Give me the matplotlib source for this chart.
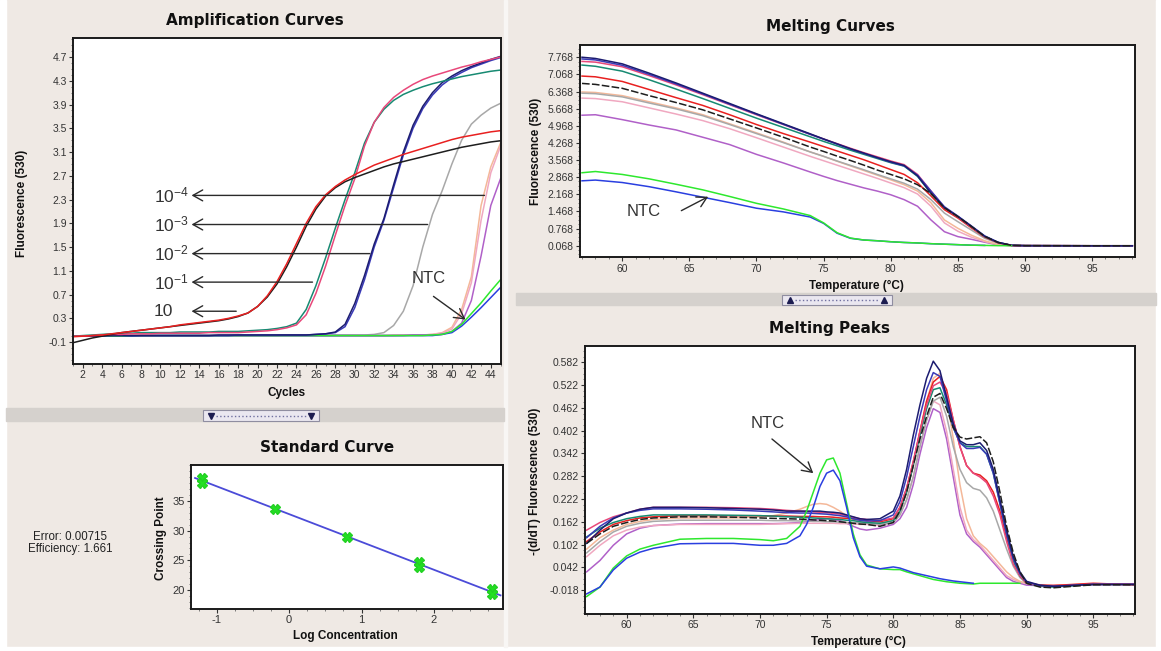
import matplotlib
matplotlib.use("Agg")
import matplotlib.pyplot as plt
import numpy as np
from matplotlib.patches import Rectangle
from matplotlib.lines import Line2D
from matplotlib.ticker import MultipleLocator, FormatStrFormatter, AutoMinorLocator

plt.rcParams["font.family"] = ["Liberation Sans", "DejaVu Sans"]
plt.rcParams["mathtext.default"] = "regular"
plt.rcParams["axes.unicode_minus"] = False

W, H = 1161, 651
BG = "#EFE9E4"
nan = float("nan")

# ---------------- Amplification curves (fluorescence per cycle) ----------------
CYCLES = list(range(1, 46))

AMP_RED = [-0.01, 0.0, 0.01, 0.02, 0.04, 0.06, 0.08, 0.1, 0.12, 0.14,
           0.16, 0.19, 0.21, 0.23, 0.25, 0.27, 0.3, 0.34, 0.39, 0.5,
           0.68, 0.92, 1.22, 1.56, 1.9, 2.18, 2.38, 2.52, 2.63, 2.72,
           2.8, 2.88, 2.94, 3.0, 3.06, 3.11, 3.16, 3.21, 3.26, 3.31,
           3.35, 3.38, 3.41, 3.44, 3.46]
AMP_BLACK = [-0.11, -0.07, -0.03, 0.0, 0.03, 0.06, 0.08, 0.1, 0.12, 0.14,
             0.16, 0.18, 0.2, 0.22, 0.24, 0.26, 0.29, 0.33, 0.39, 0.5,
             0.66, 0.88, 1.17, 1.5, 1.85, 2.14, 2.36, 2.5, 2.6, 2.67,
             2.73, 2.79, 2.85, 2.9, 2.94, 2.98, 3.02, 3.06, 3.1, 3.14,
             3.18, 3.21, 3.24, 3.27, 3.29]
AMP_TEAL = [0.0, 0.01, 0.02, 0.03, 0.04, 0.05, 0.05, 0.06, 0.06, 0.06,
            0.06, 0.07, 0.07, 0.07, 0.07, 0.08, 0.08, 0.08, 0.09, 0.1,
            0.11, 0.13, 0.16, 0.22, 0.45, 0.85, 1.32, 1.82, 2.3, 2.75,
            3.25, 3.6, 3.82, 3.97, 4.07, 4.14, 4.2, 4.25, 4.29, 4.33,
            4.37, 4.4, 4.43, 4.46, 4.48]
AMP_PINK = [0.0, 0.0, 0.01, 0.02, 0.03, 0.03, 0.04, 0.04, 0.04, 0.05,
            0.05, 0.05, 0.05, 0.05, 0.06, 0.06, 0.06, 0.06, 0.07, 0.08,
            0.09, 0.11, 0.14, 0.19, 0.36, 0.72, 1.18, 1.7, 2.2, 2.65,
            3.2, 3.6, 3.85, 4.02, 4.14, 4.24, 4.32, 4.38, 4.43, 4.48,
            4.53, 4.57, 4.62, 4.66, 4.7]
AMP_NAVY = [0.0, 0.0, 0.0, 0.01, 0.01, 0.01, 0.01, 0.01, 0.01, 0.01,
            0.01, 0.01, 0.01, 0.01, 0.01, 0.02, 0.02, 0.02, 0.02, 0.02,
            0.02, 0.02, 0.02, 0.02, 0.02, 0.03, 0.04, 0.07, 0.2, 0.55,
            1.02, 1.55, 1.98, 2.55, 3.1, 3.55, 3.87, 4.1, 4.27, 4.38,
            4.47, 4.54, 4.6, 4.66, 4.71]
AMP_VIOLET = [0.0, 0.0, 0.0, 0.0, 0.01, 0.01, 0.01, 0.01, 0.01, 0.01,
              0.01, 0.01, 0.01, 0.01, 0.01, 0.01, 0.01, 0.02, 0.02, 0.02,
              0.02, 0.02, 0.02, 0.02, 0.02, 0.03, 0.04, 0.06, 0.16, 0.48,
              0.95, 1.5, 1.95, 2.5, 3.05, 3.5, 3.83, 4.06, 4.23, 4.35,
              4.44, 4.52, 4.58, 4.64, 4.69]
AMP_GRAY = [0.0, 0.0, 0.0, 0.0, 0.01, 0.01, 0.01, 0.01, 0.01, 0.01,
            0.01, 0.01, 0.01, 0.01, 0.01, 0.01, 0.01, 0.01, 0.01, 0.01,
            0.01, 0.01, 0.02, 0.02, 0.02, 0.02, 0.02, 0.02, 0.02, 0.02,
            0.02, 0.03, 0.06, 0.18, 0.42, 0.85, 1.5, 2.05, 2.45, 2.9,
            3.3, 3.57, 3.72, 3.84, 3.92]
AMP_PEACH = [0.0, 0.0, 0.0, 0.0, 0.0, 0.01, 0.01, 0.01, 0.01, 0.01,
             0.01, 0.01, 0.01, 0.01, 0.01, 0.01, 0.01, 0.01, 0.01, 0.01,
             0.01, 0.01, 0.01, 0.01, 0.01, 0.01, 0.01, 0.01, 0.01, 0.01,
             0.01, 0.01, 0.01, 0.02, 0.02, 0.02, 0.02, 0.03, 0.06, 0.15,
             0.45, 1.0, 2.2, 2.85, 3.25]
AMP_LPINK = [0.0, 0.0, 0.0, 0.0, 0.0, 0.0, 0.01, 0.01, 0.01, 0.01,
             0.01, 0.01, 0.01, 0.01, 0.01, 0.01, 0.01, 0.01, 0.01, 0.01,
             0.01, 0.01, 0.01, 0.01, 0.01, 0.01, 0.01, 0.01, 0.01, 0.01,
             0.01, 0.01, 0.01, 0.01, 0.02, 0.02, 0.02, 0.03, 0.05, 0.12,
             0.38, 0.9, 1.95, 2.75, 3.2]
AMP_PURPLE = [0.0, 0.0, 0.0, 0.0, 0.0, 0.0, 0.0, 0.01, 0.01, 0.01,
              0.01, 0.01, 0.01, 0.01, 0.01, 0.01, 0.01, 0.01, 0.01, 0.01,
              0.01, 0.01, 0.01, 0.01, 0.01, 0.01, 0.01, 0.01, 0.01, 0.01,
              0.01, 0.01, 0.01, 0.01, 0.01, 0.02, 0.02, 0.02, 0.03, 0.08,
              0.22, 0.6, 1.35, 2.2, 2.65]
AMP_GREEN = [0.0, 0.0, 0.0, 0.0, 0.0, 0.0, 0.01, 0.01, 0.01, 0.01,
             0.01, 0.01, 0.01, 0.01, 0.01, 0.01, 0.01, 0.01, 0.01, 0.01,
             0.01, 0.01, 0.01, 0.01, 0.01, 0.01, 0.01, 0.01, 0.01, 0.01,
             0.01, 0.01, 0.01, 0.01, 0.01, 0.01, 0.01, 0.02, 0.03, 0.08,
             0.2, 0.38, 0.56, 0.76, 0.95]
AMP_BLUE = [0.0, 0.0, 0.0, 0.0, 0.0, 0.0, 0.0, 0.01, 0.01, 0.01,
            0.01, 0.01, 0.01, 0.01, 0.01, 0.01, 0.01, 0.01, 0.01, 0.01,
            0.01, 0.01, 0.01, 0.01, 0.01, 0.01, 0.01, 0.01, 0.01, 0.01,
            0.01, 0.01, 0.01, 0.01, 0.01, 0.01, 0.01, 0.01, 0.03, 0.06,
            0.17, 0.32, 0.48, 0.65, 0.82]

DILUTION_LABELS = ["10$^{-4}$", "10$^{-3}$", "10$^{-2}$", "10$^{-1}$", "10"]

# ---------------- Melting curves (fluorescence vs temperature) ----------------
MELT_T = [57, 58, 60, 62, 64, 66, 68, 70, 72, 74, 75, 76, 77, 78, 79, 80,
          81, 82, 83, 84, 85, 86, 87, 88, 89, 90, 92, 95, 98]

MELT_NAVY = [7.77, 7.72, 7.5, 7.12, 6.72, 6.3, 5.88, 5.46, 5.05, 4.64, 4.43, 4.23, 4.03, 3.85, 3.67,
             3.5, 3.35, 2.92, 2.22, 1.62, 1.26, 0.86, 0.45, 0.2, 0.08, 0.07, 0.068, 0.065, 0.065]
MELT_VIOLET = [7.7, 7.66, 7.44, 7.07, 6.68, 6.27, 5.85, 5.44, 5.03, 4.62, 4.42, 4.22, 4.02, 3.84, 3.66,
               3.48, 3.33, 2.95, 2.3, 1.66, 1.28, 0.88, 0.47, 0.21, 0.08, 0.07, 0.068, 0.066, 0.066]
MELT_PINK = [7.6, 7.57, 7.38, 7.02, 6.64, 6.24, 5.83, 5.42, 5.02, 4.62, 4.43, 4.24, 4.05, 3.87, 3.7,
             3.53, 3.38, 2.98, 2.3, 1.62, 1.24, 0.84, 0.44, 0.19, 0.08, 0.07, 0.068, 0.066, 0.066]
MELT_TEAL = [7.45, 7.4, 7.2, 6.85, 6.47, 6.08, 5.68, 5.28, 4.9, 4.52, 4.33, 4.15, 3.97, 3.8, 3.63,
             3.46, 3.32, 2.9, 2.2, 1.62, 1.25, 0.85, 0.44, 0.2, 0.09, 0.07, 0.068, 0.066, 0.066]
MELT_RED = [7.0, 6.97, 6.78, 6.45, 6.12, 5.8, 5.42, 5.02, 4.65, 4.3, 4.12, 3.94, 3.76, 3.58, 3.38,
            3.18, 2.98, 2.64, 2.1, 1.54, 1.2, 0.8, 0.42, 0.19, 0.08, 0.07, 0.068, 0.066, 0.066]
MELT_BLACK = [6.7, 6.66, 6.5, 6.2, 5.92, 5.62, 5.25, 4.88, 4.5, 4.1, 3.92, 3.73, 3.55, 3.36, 3.16,
              2.98, 2.8, 2.56, 2.2, 1.62, 1.26, 0.86, 0.45, 0.2, 0.08, 0.07, 0.068, 0.066, 0.066]
MELT_GRAY = [6.3, 6.28, 6.15, 5.9, 5.66, 5.38, 5.02, 4.65, 4.28, 3.9, 3.72, 3.53, 3.35, 3.17, 2.98,
             2.8, 2.62, 2.38, 1.95, 1.4, 1.05, 0.71, 0.37, 0.17, 0.08, 0.07, 0.068, 0.066, 0.066]
MELT_PEACH = [6.35, 6.33, 6.2, 5.95, 5.7, 5.42, 5.05, 4.68, 4.3, 3.9, 3.72, 3.52, 3.33, 3.14, 2.95,
              2.76, 2.56, 2.3, 1.82, 1.12, 0.78, 0.5, 0.27, 0.12, 0.07, 0.068, 0.068, 0.066, 0.066]
MELT_LPINK = [6.1, 6.08, 5.95, 5.7, 5.45, 5.18, 4.85, 4.48, 4.1, 3.72, 3.54, 3.36, 3.18, 3.0, 2.82,
              2.63, 2.44, 2.18, 1.68, 1.0, 0.66, 0.42, 0.24, 0.11, 0.07, 0.068, 0.068, 0.066, 0.066]
MELT_PURPLE = [5.4, 5.42, 5.22, 5.0, 4.8, 4.5, 4.2, 3.8, 3.45, 3.08, 2.9, 2.73, 2.58, 2.43, 2.3,
               2.15, 1.95, 1.68, 1.12, 0.64, 0.44, 0.33, 0.21, 0.1, 0.07, 0.068, 0.068, 0.066, 0.066]
MELT_GREEN = [3.05, 3.1, 2.98, 2.8, 2.58, 2.35, 2.08, 1.8, 1.57, 1.3, 1.0, 0.6, 0.38, 0.3, 0.27,
              0.23, 0.2, 0.18, 0.15, 0.13, 0.11, 0.09, 0.08, 0.07, 0.068, nan, nan, nan, nan]
MELT_BLUE = [2.72, 2.75, 2.65, 2.48, 2.27, 2.05, 1.83, 1.6, 1.45, 1.24, 0.98, 0.58, 0.37, 0.3, 0.27,
             0.23, 0.2, 0.18, 0.15, 0.13, 0.11, 0.09, 0.08, nan, nan, nan, nan, nan, nan]

# ---------------- Melting peaks (-dF/dT vs temperature) ----------------
PEAK_T = [57, 58, 59, 60, 61, 62, 64, 66, 68, 70, 71, 72, 73, 73.5, 74, 74.5, 75, 75.5, 76, 76.5,
          77, 77.5, 78, 79, 80, 80.5, 81, 81.5, 82, 82.5, 83, 83.5, 84, 84.5, 85, 85.5, 86, 86.5,
          87, 87.5, 88, 88.5, 89, 89.5, 90, 91, 92, 95, 98]

PEAK_NAVY = [0.105, 0.14, 0.17, 0.185, 0.195, 0.2, 0.2, 0.199, 0.197, 0.195, 0.193, 0.19,
             0.19, 0.19, 0.19, 0.19, 0.188, 0.187, 0.185, 0.18, 0.175, 0.17, 0.168, 0.17, 0.19,
             0.23, 0.3, 0.39, 0.47, 0.54, 0.585, 0.56, 0.49, 0.42, 0.375, 0.365, 0.365, 0.37,
             0.35, 0.3, 0.22, 0.14, 0.07, 0.03, 0.005, -0.005, -0.008, -0.003, -0.003]
PEAK_VIOLET = [0.12, 0.15, 0.172, 0.185, 0.192, 0.196, 0.196, 0.195, 0.193, 0.19, 0.188, 0.186,
               0.185, 0.185, 0.184, 0.183, 0.182, 0.18, 0.178, 0.175, 0.17, 0.166, 0.164, 0.165, 0.18,
               0.215, 0.28, 0.36, 0.44, 0.51, 0.555, 0.545, 0.48, 0.41, 0.37, 0.355, 0.355, 0.358,
               0.34, 0.29, 0.21, 0.13, 0.065, 0.025, 0.003, -0.006, -0.008, -0.003, -0.003]
PEAK_TEAL = [0.122, 0.145, 0.16, 0.17, 0.176, 0.18, 0.18, 0.18, 0.179, 0.178, 0.177, 0.175,
             0.174, 0.173, 0.172, 0.171, 0.17, 0.169, 0.168, 0.166, 0.165, 0.162, 0.16, 0.158, 0.165,
             0.19, 0.24, 0.31, 0.39, 0.46, 0.51, 0.515, 0.47, 0.41, 0.37, 0.36, 0.36, 0.36,
             0.34, 0.29, 0.21, 0.13, 0.06, 0.02, 0.0, -0.008, -0.01, -0.003, -0.003]
PEAK_PINK = [0.14, 0.16, 0.175, 0.185, 0.195, 0.2, 0.2, 0.2, 0.199, 0.197, 0.195, 0.192,
             0.19, 0.189, 0.188, 0.187, 0.186, 0.184, 0.182, 0.178, 0.174, 0.17, 0.168, 0.165, 0.172,
             0.2, 0.25, 0.32, 0.4, 0.47, 0.52, 0.53, 0.5, 0.43, 0.36, 0.31, 0.29, 0.28,
             0.265, 0.23, 0.18, 0.11, 0.05, 0.02, 0.0, -0.006, -0.008, -0.002, -0.002]
PEAK_RED = [0.11, 0.135, 0.155, 0.165, 0.172, 0.175, 0.178, 0.178, 0.178, 0.178, 0.177, 0.177,
            0.176, 0.176, 0.176, 0.175, 0.175, 0.174, 0.172, 0.171, 0.17, 0.167, 0.165, 0.162, 0.17,
            0.2, 0.25, 0.32, 0.4, 0.48, 0.53, 0.545, 0.51, 0.43, 0.36, 0.31, 0.29, 0.285,
            0.27, 0.24, 0.19, 0.12, 0.06, 0.02, 0.0, -0.005, -0.006, 0.0, -0.004]
PEAK_BLACK = [0.105, 0.13, 0.15, 0.16, 0.168, 0.172, 0.175, 0.175, 0.174, 0.172, 0.171, 0.17,
              0.169, 0.168, 0.167, 0.166, 0.165, 0.164, 0.162, 0.16, 0.158, 0.156, 0.155, 0.15, 0.16,
              0.19, 0.24, 0.31, 0.38, 0.44, 0.49, 0.5, 0.46, 0.41, 0.385, 0.38, 0.383, 0.386,
              0.37, 0.32, 0.24, 0.15, 0.08, 0.03, 0.0, -0.01, -0.012, -0.004, -0.004]
PEAK_GRAY = [0.08, 0.11, 0.135, 0.15, 0.158, 0.163, 0.166, 0.166, 0.166, 0.166, 0.165, 0.165,
             0.164, 0.164, 0.163, 0.163, 0.162, 0.162, 0.161, 0.16, 0.16, 0.159, 0.158, 0.155, 0.16,
             0.18, 0.22, 0.28, 0.36, 0.43, 0.48, 0.49, 0.44, 0.36, 0.3, 0.265, 0.25, 0.245,
             0.225, 0.19, 0.14, 0.09, 0.045, 0.015, 0.0, -0.006, -0.008, -0.003, -0.003]
PEAK_PEACH = [0.09, 0.12, 0.14, 0.155, 0.163, 0.168, 0.172, 0.172, 0.172, 0.175, 0.178, 0.185,
              0.195, 0.202, 0.208, 0.21, 0.208, 0.2, 0.19, 0.178, 0.168, 0.162, 0.16, 0.158, 0.165,
              0.19, 0.24, 0.31, 0.4, 0.48, 0.54, 0.553, 0.49, 0.38, 0.26, 0.17, 0.125, 0.105,
              0.09, 0.07, 0.05, 0.03, 0.015, 0.005, 0.0, -0.005, -0.006, -0.003, -0.003]
PEAK_LPINK = [0.07, 0.1, 0.125, 0.14, 0.148, 0.152, 0.155, 0.155, 0.155, 0.155, 0.156, 0.157,
              0.158, 0.158, 0.158, 0.158, 0.158, 0.158, 0.157, 0.157, 0.156, 0.155, 0.155, 0.152, 0.16,
              0.18, 0.22, 0.28, 0.36, 0.43, 0.48, 0.47, 0.4, 0.3, 0.2, 0.14, 0.115, 0.1,
              0.08, 0.06, 0.04, 0.02, 0.01, 0.003, 0.0, -0.004, -0.005, -0.003, -0.003]
PEAK_PURPLE = [0.03, 0.06, 0.1, 0.13, 0.145, 0.152, 0.156, 0.157, 0.157, 0.157, 0.157, 0.158,
               0.16, 0.162, 0.165, 0.168, 0.17, 0.168, 0.165, 0.158, 0.15, 0.143, 0.14, 0.145, 0.155,
               0.17, 0.2, 0.26, 0.34, 0.41, 0.46, 0.45, 0.38, 0.28, 0.18, 0.13, 0.11, 0.095,
               0.075, 0.055, 0.035, 0.015, 0.005, 0.0, -0.005, -0.006, -0.006, -0.004, -0.004]
PEAK_GREEN = [-0.035, -0.01, 0.04, 0.072, 0.09, 0.1, 0.116, 0.118, 0.118, 0.115, 0.112, 0.118,
              0.15, 0.19, 0.24, 0.29, 0.325, 0.33, 0.29, 0.21, 0.13, 0.075, 0.048, 0.038, 0.036,
              0.036, 0.03, 0.025, 0.02, 0.015, 0.01, 0.007, 0.004, 0.002, 0.0, -0.001, -0.002, 0.0,
              0.0, 0.0, 0.0, 0.0, 0.0, 0.0, nan, nan, nan, nan, nan]
PEAK_BLUE = [-0.028, -0.01, 0.035, 0.066, 0.082, 0.092, 0.104, 0.105, 0.105, 0.1, 0.1, 0.105,
             0.125, 0.155, 0.2, 0.255, 0.29, 0.298, 0.27, 0.2, 0.12, 0.07, 0.045, 0.038, 0.043,
             0.04, 0.034, 0.028, 0.024, 0.02, 0.016, 0.012, 0.009, 0.006, 0.004, 0.002, 0.0, nan,
             nan, nan, nan, nan, nan, nan, nan, nan, nan, nan, nan]

# ---------------- Standard curve ----------------
LOG_CONC = [-1.2, -1.2, -0.2, 0.8, 1.8, 1.8, 2.8, 2.8]
CROSSING_POINT = [38.9, 37.9, 33.65, 28.95, 24.7, 23.95, 20.15, 19.35]
STD_ERROR = "0.00715"
STD_EFFICIENCY = "1.661"

COLORS = {
    "navy": "#1c1c70", "violet": "#3a3ab8", "teal": "#178a72", "pink": "#e8487a",
    "red": "#e82020", "black": "#1e1e1e", "gray": "#a8a8a8", "peach": "#f4b899",
    "lpink": "#f0a8c0", "purple": "#b060c8", "green": "#2ee82e", "blue": "#2a3fe0",
}

fig = plt.figure(figsize=(W / 100, H / 100), dpi=100, facecolor=BG)


def fx(px):
    return px / W


def fy(py):
    return 1 - py / H


def add_ax(left, top, right, bottom):
    return fig.add_axes([fx(left), fy(bottom), (right - left) / W, (bottom - top) / H])


def rect(x0, y0, x1, y1, **kw):
    fig.add_artist(Rectangle((fx(x0), fy(y1)), (x1 - x0) / W, (y1 - y0) / H,
                             transform=fig.transFigure, **kw))


def style(ax, size=7.5):
    ax.set_facecolor("white")
    for s in ax.spines.values():
        s.set_linewidth(1.4)
        s.set_color("#1a1a1a")
    ax.tick_params(which="major", direction="out", length=3, width=0.8,
                   labelsize=size, colors="#333333", pad=1.5)
    ax.tick_params(which="minor", direction="out", length=1.5, width=0.6, colors="#666666")


def title(cx, cy, s):
    fig.text(fx(cx), fy(cy), s, ha="center", va="center", fontsize=11,
             fontweight="heavy", family="DejaVu Sans", color="#111111")


def label(cx, cy, s, rot=0):
    fig.text(fx(cx), fy(cy), s, ha="center", va="center", fontsize=8.5,
             fontweight="bold", rotation=rot, color="#111111")


def arrow(ax, head, tail):
    ax.annotate("", xy=head, xytext=tail,
                arrowprops=dict(arrowstyle="->, head_length=0.5, head_width=0.28",
                                color="#2a2a2a", lw=1.0, mutation_scale=14,
                                shrinkA=0, shrinkB=0))


# ---------------- window decoration ----------------
rect(0, 0, 6, H, color="white", zorder=0)
rect(0, 647, W, H, color="white", zorder=0)
rect(1156, 0, W, H, color="white", zorder=0)
rect(504, 0, 507, 647, color="#F8F6F4", zorder=0)

rect(6, 408, 504, 421, color="#D5D1CD", zorder=1)
rect(203, 410, 319, 420.5, facecolor="#EAE7F0", edgecolor="#8f8da0", lw=0.8, zorder=2)
fig.add_artist(Line2D([fx(216), fx(306)], [fy(415.5)] * 2, transform=fig.transFigure,
                      color="#7070a0", lw=1.0, ls=":", zorder=3))
fig.add_artist(Line2D([fx(211), fx(311)], [fy(415.5)] * 2, transform=fig.transFigure,
                      ls="none", marker="v", ms=4, color="#1c1c50", zorder=3))

rect(516, 293, 1156, 305, color="#D5D1CD", zorder=1)
rect(782, 295, 892, 304.5, facecolor="#EAE7F0", edgecolor="#8f8da0", lw=0.8, zorder=2)
fig.add_artist(Line2D([fx(795), fx(879)], [fy(299.7)] * 2, transform=fig.transFigure,
                      color="#7070a0", lw=1.0, ls=":", zorder=3))
fig.add_artist(Line2D([fx(790), fx(884)], [fy(299.7)] * 2, transform=fig.transFigure,
                      ls="none", marker="^", ms=4, color="#1c1c50", zorder=3))

# ---------------- Amplification Curves ----------------
ax = add_ax(73, 38, 500.5, 363.5)
style(ax)
amp_series = [
    (AMP_GRAY, "gray"), (AMP_PEACH, "peach"), (AMP_LPINK, "lpink"), (AMP_PURPLE, "purple"),
    (AMP_BLUE, "blue"), (AMP_GREEN, "green"), (AMP_VIOLET, "violet"), (AMP_NAVY, "navy"),
    (AMP_TEAL, "teal"), (AMP_PINK, "pink"), (AMP_BLACK, "black"), (AMP_RED, "red"),
]
for vals, c in amp_series:
    ax.plot(CYCLES, vals, color=COLORS[c], lw=1.1)
ax.set_xlim(1, 45)
ax.set_ylim(-0.46, 5.02)
ax.set_xticks(range(2, 45, 2))
ax.xaxis.set_minor_locator(MultipleLocator(1))
ax.set_yticks(np.arange(-0.1, 4.8, 0.4))
ax.yaxis.set_major_formatter(FormatStrFormatter("%.1f"))
ax.yaxis.set_minor_locator(AutoMinorLocator(4))

for txt, lvl, cyc in zip(DILUTION_LABELS, [2.37, 1.88, 1.39, 0.91, 0.42],
                         [43.35, 37.5, 31.55, 25.65, 17.8]):
    arrow(ax, (13.2, lvl), (cyc, lvl))
    ax.text(9.3, lvl, txt, ha="left", va="center", fontsize=12.5, color="#333333")
ax.text(37.65, 0.97, "NTC", ha="center", va="center", fontsize=12, color="#333333")
arrow(ax, (41.4, 0.28), (38.1, 0.67))

title(255, 20, "Amplification Curves")
label(21.7, 203, "Fluorescence (530)", rot=90)
label(286.7, 393.3, "Cycles")

# ---------------- Melting Curves ----------------
ax2 = add_ax(580, 45, 1135, 257.3)
style(ax2)
melt_series = [
    (MELT_PURPLE, "purple"), (MELT_LPINK, "lpink"), (MELT_PEACH, "peach"), (MELT_GRAY, "gray"),
    (MELT_RED, "red"), (MELT_TEAL, "teal"), (MELT_PINK, "pink"), (MELT_VIOLET, "violet"),
    (MELT_NAVY, "navy"), (MELT_BLUE, "blue"), (MELT_GREEN, "green"),
]
for vals, c in melt_series:
    ax2.plot(MELT_T, vals, color=COLORS[c], lw=1.1)
ax2.plot(MELT_T, MELT_BLACK, color=COLORS["black"], lw=1.1, ls=(0, (5, 1.5)))
ax2.set_xlim(56.85, 98.2)
ax2.set_ylim(-0.406, 8.27)
ax2.set_xticks(range(60, 96, 5))
ax2.xaxis.set_minor_locator(MultipleLocator(1))
ax2.set_yticks(np.arange(0.068, 7.8, 0.7))
ax2.yaxis.set_major_formatter(FormatStrFormatter("%.3f"))
ax2.yaxis.set_minor_locator(AutoMinorLocator(4))
ax2.text(61.6, 1.46, "NTC", ha="center", va="center", fontsize=12, color="#333333")
arrow(ax2, (66.4, 2.07), (64.4, 1.5))

title(830, 26.7, "Melting Curves")
label(535.8, 151, "Fluorescence (530)", rot=90)
label(856.7, 285.7, "Temperature (°C)")

# ---------------- Melting Peaks ----------------
ax3 = add_ax(585.3, 346, 1135, 614)
style(ax3)
peak_series = [
    (PEAK_PURPLE, "purple"), (PEAK_LPINK, "lpink"), (PEAK_PEACH, "peach"), (PEAK_GRAY, "gray"),
    (PEAK_RED, "red"), (PEAK_TEAL, "teal"), (PEAK_PINK, "pink"), (PEAK_VIOLET, "violet"),
    (PEAK_NAVY, "navy"), (PEAK_GREEN, "green"), (PEAK_BLUE, "blue"),
]
for vals, c in peak_series:
    ax3.plot(PEAK_T, vals, color=COLORS[c], lw=1.1)
ax3.plot(PEAK_T, PEAK_BLACK, color=COLORS["black"], lw=1.1, ls=(0, (5, 1.5)))
ax3.set_xlim(56.9, 98.13)
ax3.set_ylim(-0.081, 0.625)
ax3.set_xticks(range(60, 96, 5))
ax3.xaxis.set_minor_locator(MultipleLocator(1))
ax3.set_yticks(np.arange(-0.018, 0.6, 0.06))
ax3.yaxis.set_major_formatter(FormatStrFormatter("%.3f"))
ax3.yaxis.set_minor_locator(AutoMinorLocator(4))
ax3.text(70.55, 0.421, "NTC", ha="center", va="center", fontsize=12, color="#333333")
arrow(ax3, (74.0, 0.29), (70.9, 0.38))

title(829.3, 328.3, "Melting Peaks")
label(535, 481, "-(d/dT) Fluorescence (530)", rot=90)
label(858, 641.7, "Temperature (°C)")

# ---------------- Standard Curve ----------------
ax4 = add_ax(190.7, 465, 502.7, 608.7)
style(ax4, size=8)
slope, icpt = np.polyfit(LOG_CONC, CROSSING_POINT, 1)
xl = np.array([-1.3, 2.92])
ax4.plot(xl, slope * xl + icpt, color="#4b4bd8", lw=1.3, zorder=2)
ax4.plot(LOG_CONC, CROSSING_POINT, ls="none", marker="X", ms=7, color="#22e022",
         mec="#22d022", zorder=3)
ax4.set_xlim(-1.36, 2.95)
ax4.set_ylim(16.9, 41)
ax4.set_xticks([-1, 0, 1, 2])
ax4.xaxis.set_major_formatter(FormatStrFormatter("%d"))
ax4.set_yticks([20, 25, 30, 35])
ax4.xaxis.set_minor_locator(MultipleLocator(0.25))
ax4.yaxis.set_minor_locator(MultipleLocator(1))

title(326.7, 447.7, "Standard Curve")
label(161, 538, "Crossing Point", rot=90)
label(345.7, 636.5, "Log Concentration")
fig.text(fx(70), fy(536.7), "Error: " + STD_ERROR, ha="center", va="center",
         fontsize=8.3, color="#222222")
fig.text(fx(70.5), fy(549.3), "Efficiency: " + STD_EFFICIENCY, ha="center", va="center",
         fontsize=8.3, color="#222222")

fig.savefig("out.png", dpi=100, facecolor=BG)
